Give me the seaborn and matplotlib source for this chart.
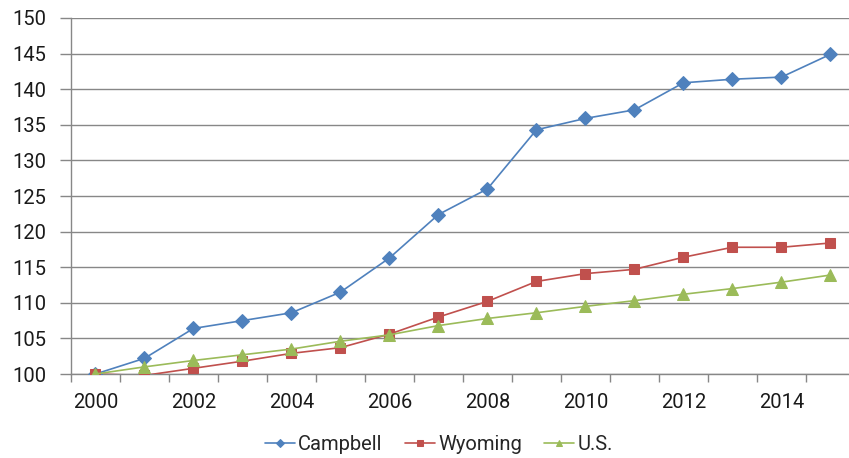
import matplotlib
matplotlib.use("Agg")
import matplotlib.pyplot as plt
import seaborn as sns
import pandas as pd
import numpy as np

years = list(range(2000, 2016))
campbell = [100.0, 102.2, 106.4, 107.5, 108.6, 111.5, 116.3, 122.4, 126.0,
            134.3, 135.9, 137.1, 140.9, 141.4, 141.7, 144.9]
wyoming = [100.0, 99.8, 100.8, 101.8, 102.9, 103.7, 105.6, 108.0, 110.2,
           113.0, 114.1, 114.7, 116.4, 117.8, 117.8, 118.4]
us = [100.0, 101.0, 101.9, 102.7, 103.5, 104.6, 105.5, 106.8, 107.8,
      108.6, 109.5, 110.3, 111.2, 112.0, 112.9, 113.9]
series_names = ["Campbell", "Wyoming", "U.S."]
y_ticks = list(range(100, 151, 5))
x_tick_labels = [str(y) for y in range(2000, 2015, 2)]

df = pd.DataFrame({
    "year": years * 3,
    "value": campbell + wyoming + us,
    "area": [n for n in series_names for _ in years],
})

sns.set_theme(style="white")
plt.rcParams["font.family"] = ["Roboto", "DejaVu Sans"]

fig = plt.figure(figsize=(8.49, 4.58), dpi=100)
ax = fig.add_axes([0.0836, 0.1834, 0.9234, 0.7773])

palette = {"Campbell": "#4F81BD", "Wyoming": "#C0504D", "U.S.": "#9BBB59"}
markers = {"Campbell": "D", "Wyoming": "s", "U.S.": "^"}
sizes = {"Campbell": 7.2, "Wyoming": 7.5, "U.S.": 8.2}

for name in series_names:
    sub = df[df["area"] == name]
    sns.lineplot(data=sub, x="year", y="value", ax=ax, color=palette[name],
                 marker=markers[name], markersize=sizes[name],
                 markeredgecolor=palette[name], linewidth=1.2, label=name,
                 zorder=3)

ax.set_xlim(1999.5, 2015.5)
ax.set_ylim(100, 150)
ax.set_yticks(y_ticks)
ax.set_xticks(range(2000, 2015, 2))
ax.set_xticklabels(x_tick_labels)
ax.set_xticks(np.arange(1999.5, 2015.6, 1.0), minor=True)
ax.set_xlabel("")
ax.set_ylabel("")

ax.grid(axis="y", color="#878787", linewidth=1.0)
ax.set_axisbelow(True)
for side in ["top", "right"]:
    ax.spines[side].set_visible(False)
for side in ["left", "bottom"]:
    ax.spines[side].set_color("#878787")
    ax.spines[side].set_linewidth(1.0)

ax.tick_params(axis="y", which="major", left=True, length=8, width=1.0,
               color="#878787", labelsize=14.5, pad=10, labelcolor="#1a1a1a")
ax.tick_params(axis="x", which="major", bottom=False, labelsize=14.5,
               pad=8, labelcolor="#1a1a1a")
ax.tick_params(axis="x", which="minor", bottom=True, length=6, width=1.0,
               color="#878787", direction="out")

ax.get_legend().remove()
handles, labels = ax.get_legend_handles_labels()
fig.legend(handles, labels, loc="center", bbox_to_anchor=(0.517, 0.03),
           ncol=3, frameon=False, fontsize=14.5, handlelength=1.5,
           handletextpad=0.15, columnspacing=1.1, markerscale=0.55)

fig.savefig("out.png", dpi=100)
